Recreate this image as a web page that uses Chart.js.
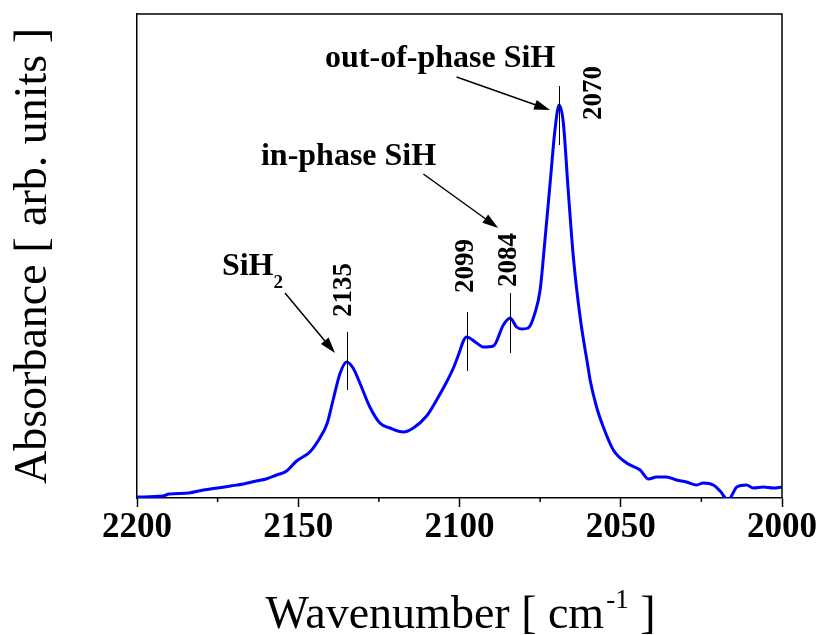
<!DOCTYPE html>
<html>
<head>
<meta charset="utf-8">
<script src="https://cdn.jsdelivr.net/npm/chart.js@4.4.1/dist/chart.umd.min.js"></script>
<style>
html, body { margin: 0; padding: 0; background: #fff; }
</style>
</head>
<body>
<canvas id="chart" width="817" height="635"></canvas>
<script>
// spectrum (wavenumber in cm-1, absorbance in arb. units)
const wavenumbers = [
    2200, 2192, 2190, 2184, 2179.4, 2175, 2171, 2167, 2163, 2160,
    2156.7, 2153.6, 2150.5, 2146.4, 2143.3, 2141, 2139.2, 2137, 2135, 2133,
    2130.9, 2127.8, 2124.7, 2121.6, 2117.4, 2114.3, 2110.2, 2107.1, 2104, 2101.9,
    2100, 2098.8, 2097.8, 2094.7, 2092.6, 2089.5, 2086.4, 2084.3, 2082.3, 2080.7,
    2078.7, 2076.6, 2075, 2073.5, 2071.9, 2070.4, 2069.1, 2067.8, 2066.3, 2064.7,
    2062.6, 2060, 2059.5, 2057.5, 2055.4, 2052.3, 2048.2, 2044, 2041.4, 2038.9,
    2035.8, 2032.7, 2029.6, 2026.5, 2024.4, 2021.3, 2019.2, 2016.7, 2014,
    2011, 2008.9, 2005.8, 2002.7, 2000
];
const absorbance = [
    0.01, 0.02, 0.04, 0.05, 0.08, 0.10, 0.12, 0.14, 0.17, 0.19,
    0.23, 0.27, 0.37, 0.46, 0.60, 0.75, 0.98, 1.25, 1.36, 1.30,
    1.15, 0.91, 0.75, 0.70, 0.66, 0.70, 0.82, 0.98, 1.16, 1.30,
    1.46, 1.57, 1.61, 1.55, 1.51, 1.52, 1.73, 1.80, 1.71, 1.69,
    1.70, 1.85, 2.08, 2.58, 3.15, 3.68, 3.93, 3.75, 3.08, 2.41,
    1.81, 1.28, 1.18, 0.91, 0.71, 0.48, 0.35, 0.28, 0.19, 0.21,
    0.21, 0.18, 0.16, 0.13, 0.15, 0.13, 0.07, -0.02, 0.11,
    0.13, 0.10, 0.11, 0.10, 0.11
];

const xTicks = [2200, 2150, 2100, 2050, 2000];
const xMinorTicks = [2175, 2125, 2075, 2025];

// peak markers: vertical line and rotated label
const peakLabels = ['2135', '2099', '2084', '2070'];
const peakLineAt = [2135, 2097.8, 2084.3, 2069.1];
const peakLineLow = [1.08, 1.27, 1.45, 3.53];
const peakLineHigh = [1.66, 1.86, 2.05, 4.12];
const peakLabelAt = [2135.8, 2098, 2084.5, 2058.3];
const peakLabelFoot = [1.81, 2.05, 2.11, 3.78];

// band names with arrows
const bandNames = ['out-of-phase SiH', 'in-phase SiH', 'SiH'];
const bandSub = ['', '', '2'];
const bandNameAt = [2106.0, 2134.4, 2164.2];
const bandNameBase = [4.31, 3.33, 2.23];
const arrowFrom = [[2100.9, 4.21], [2111.2, 3.24], [2154.1, 2.05]];
const arrowTo = [[2071.9, 3.88], [2088.0, 2.70], [2138.6, 1.45]];

const SERIF = '"Liberation Serif", "Times New Roman", Times, serif';

function drawArrow(ctx, x1, y1, x2, y2) {
    const ang = Math.atan2(y2 - y1, x2 - x1);
    const len = 16, hw = 5;
    ctx.beginPath();
    ctx.moveTo(x1, y1);
    ctx.lineTo(x2 - Math.cos(ang) * len * 0.8, y2 - Math.sin(ang) * len * 0.8);
    ctx.stroke();
    ctx.beginPath();
    ctx.moveTo(x2, y2);
    ctx.lineTo(x2 - Math.cos(ang) * len + Math.sin(ang) * hw, y2 - Math.sin(ang) * len - Math.cos(ang) * hw);
    ctx.lineTo(x2 - Math.cos(ang) * len - Math.sin(ang) * hw, y2 - Math.sin(ang) * len + Math.cos(ang) * hw);
    ctx.closePath();
    ctx.fill();
}

const extras = {
    id: 'extras',
    afterDraw(chart) {
        const ctx = chart.ctx;
        const xs = chart.scales.x;
        const ys = chart.scales.y;
        const area = chart.chartArea;
        ctx.save();
        ctx.strokeStyle = '#000';
        ctx.fillStyle = '#000';

        // top and right frame
        ctx.lineWidth = 1.5;
        ctx.beginPath();
        ctx.moveTo(area.left, area.top);
        ctx.lineTo(area.right, area.top);
        ctx.lineTo(area.right, area.bottom);
        ctx.stroke();

        // minor ticks
        for (const w of xMinorTicks) {
            const px = xs.getPixelForValue(w);
            ctx.beginPath();
            ctx.moveTo(px, area.bottom);
            ctx.lineTo(px, area.bottom + 4);
            ctx.stroke();
        }

        // peak lines
        ctx.lineWidth = 1;
        for (let i = 0; i < peakLabels.length; i++) {
            const px = Math.round(xs.getPixelForValue(peakLineAt[i])) + 0.5;
            ctx.beginPath();
            ctx.moveTo(px, ys.getPixelForValue(peakLineLow[i]));
            ctx.lineTo(px, ys.getPixelForValue(peakLineHigh[i]));
            ctx.stroke();
        }

        // rotated peak labels
        ctx.font = 'bold 27px ' + SERIF;
        ctx.textAlign = 'left';
        ctx.textBaseline = 'middle';
        for (let i = 0; i < peakLabels.length; i++) {
            ctx.save();
            ctx.translate(xs.getPixelForValue(peakLabelAt[i]), ys.getPixelForValue(peakLabelFoot[i]));
            ctx.rotate(-Math.PI / 2);
            ctx.fillText(peakLabels[i], 0, 0);
            ctx.restore();
        }

        // band names
        ctx.textBaseline = 'alphabetic';
        for (let i = 0; i < bandNames.length; i++) {
            const px = xs.getPixelForValue(bandNameAt[i]);
            const py = ys.getPixelForValue(bandNameBase[i]);
            ctx.font = 'bold 32px ' + SERIF;
            const wMain = ctx.measureText(bandNames[i]).width;
            ctx.font = 'bold 19px ' + SERIF;
            const wSub = bandSub[i] ? ctx.measureText(bandSub[i]).width : 0;
            const x0 = px - (wMain + wSub) / 2;
            ctx.font = 'bold 32px ' + SERIF;
            ctx.textAlign = 'left';
            ctx.fillText(bandNames[i], x0, py);
            if (bandSub[i]) {
                ctx.font = 'bold 19px ' + SERIF;
                ctx.fillText(bandSub[i], x0 + wMain, py + 13);
            }
        }

        // arrows
        ctx.lineWidth = 1.5;
        for (let i = 0; i < arrowFrom.length; i++) {
            drawArrow(ctx,
                xs.getPixelForValue(arrowFrom[i][0]), ys.getPixelForValue(arrowFrom[i][1]),
                xs.getPixelForValue(arrowTo[i][0]), ys.getPixelForValue(arrowTo[i][1]));
        }

        // x axis title with superscript
        const main1 = 'Wavenumber [ cm';
        const sup = '-1';
        const main2 = ' ]';
        ctx.font = '46px ' + SERIF;
        const w1 = ctx.measureText(main1).width;
        const w3 = ctx.measureText(main2).width;
        ctx.font = '27px ' + SERIF;
        const w2 = ctx.measureText(sup).width;
        const cx = (area.left + area.right) / 2;
        let tx = cx - (w1 + w2 + w3) / 2;
        const base = 628;
        ctx.textAlign = 'left';
        ctx.font = '46px ' + SERIF;
        ctx.fillText(main1, tx, base);
        tx += w1;
        ctx.font = '27px ' + SERIF;
        ctx.fillText(sup, tx + 2, base - 20);
        tx += w2 + 2;
        ctx.font = '46px ' + SERIF;
        ctx.fillText(main2, tx, base);

        ctx.restore();
    }
};

const points = wavenumbers.map((w, i) => ({x: w, y: absorbance[i]}));

const chart = new Chart(document.getElementById('chart'), {
    type: 'line',
    data: {
        datasets: [{
            data: points,
            borderColor: '#0000ff',
            borderWidth: 3,
            pointRadius: 0,
            cubicInterpolationMode: 'monotone',
            fill: false
        }]
    },
    options: {
        responsive: false,
        animation: false,
        devicePixelRatio: 1,
        layout: { padding: { top: 14, right: 35, left: 0, bottom: 0 } },
        plugins: {
            legend: { display: false },
            tooltip: { enabled: false }
        },
        scales: {
            x: {
                type: 'linear',
                reverse: true,
                min: 2000,
                max: 2200,
                afterBuildTicks: (scale) => { scale.ticks = xTicks.map(v => ({value: v})); },
                afterFit: (scale) => { scale.height = 137; },
                ticks: {
                    color: '#000',
                    font: { family: SERIF, size: 35, weight: 'bold' },
                    padding: 0,
                    maxRotation: 0,
                    callback: (v) => String(v)
                },
                grid: {
                    drawOnChartArea: false,
                    tickLength: 9,
                    tickWidth: 1.5,
                    tickColor: '#000'
                },
                border: { display: true, color: '#000', width: 1.5 }
            },
            y: {
                min: 0,
                max: 4.84,
                afterFit: (scale) => { scale.width = 137; },
                ticks: { display: false },
                grid: { display: false },
                border: { display: true, color: '#000', width: 1.5 },
                title: {
                    display: true,
                    text: 'Absorbance [ arb. units ]',
                    color: '#000',
                    font: { family: SERIF, size: 46, weight: 'normal' },
                    padding: { top: 6, bottom: 0 }
                }
            }
        }
    },
    plugins: [extras]
});
</script>
</body>
</html>
